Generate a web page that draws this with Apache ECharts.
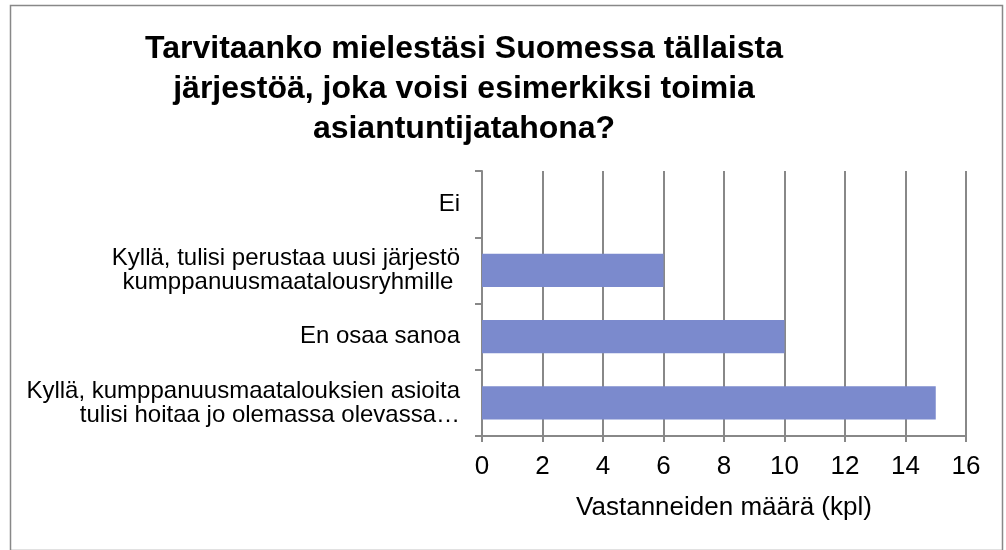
<!DOCTYPE html>
<html><head><meta charset="utf-8">
<script src="https://cdn.jsdelivr.net/npm/echarts@6/dist/echarts.min.js"></script>
<style>html,body{margin:0;padding:0;background:#fff}#c{width:1006px;height:550px}</style>
</head><body><div id="c"></div>
<script>
const categories = [
  "Kyllä, kumppanuusmaatalouksien asioita\ntulisi hoitaa jo olemassa olevassa…",
  "En osaa sanoa",
  "Kyllä, tulisi perustaa uusi järjestö\nkumppanuusmaatalousryhmille ",
  "Ei"
];
const values = [15, 10, 6, 0];
const titleText = "Tarvitaanko mielestäsi Suomessa tällaista\njärjestöä, joka voisi esimerkiksi toimia\nasiantuntijatahona?";
const axisName = "Vastanneiden määrä (kpl)";

const chart = echarts.init(document.getElementById('c'), null, {renderer: 'canvas'});
chart.setOption({
  animation: false,
  backgroundColor: '#fff',
  graphic: [{
    type: 'rect', left: 8, top: 3, shape: {width: 992, height: 545},
    style: {fill: 'none', stroke: '#888', lineWidth: 1.5}, silent: true
  }],
  title: {
    text: titleText, left: 459, top: 24, textAlign: 'center',
    textStyle: {fontFamily: 'Liberation Sans, Arial', fontWeight: 'bold', fontSize: 32, lineHeight: 40, color: '#000'}
  },
  grid: {left: 482, right: 40, top: 171, bottom: 114, containLabel: false},
  xAxis: {
    type: 'value', min: 0, max: 16, interval: 2,
    name: axisName, nameLocation: 'middle', nameGap: 59,
    nameTextStyle: {fontFamily: 'Liberation Sans, Arial', fontSize: 26, color: '#000'},
    axisLine: {show: true, lineStyle: {color: '#888', width: 2}},
    axisTick: {show: true, length: 6, lineStyle: {color: '#888', width: 2}},
    axisLabel: {fontFamily: 'Liberation Sans, Arial', fontSize: 26, color: '#000', margin: 18},
    splitLine: {show: true, lineStyle: {color: '#888', width: 2}}
  },
  yAxis: {
    type: 'category', data: categories,
    axisLine: {show: true, lineStyle: {color: '#888', width: 2}},
    axisTick: {show: true, length: 7, lineStyle: {color: '#888', width: 2}},
    axisLabel: {fontFamily: 'Liberation Sans, Arial', fontSize: 24, color: '#000', margin: 22, lineHeight: 24, align: 'right'},
    splitLine: {show: false}
  },
  series: [{
    type: 'bar', data: values, barCategoryGap: '50%',
    itemStyle: {color: '#7b8acd'}
  }]
});
</script></body></html>
